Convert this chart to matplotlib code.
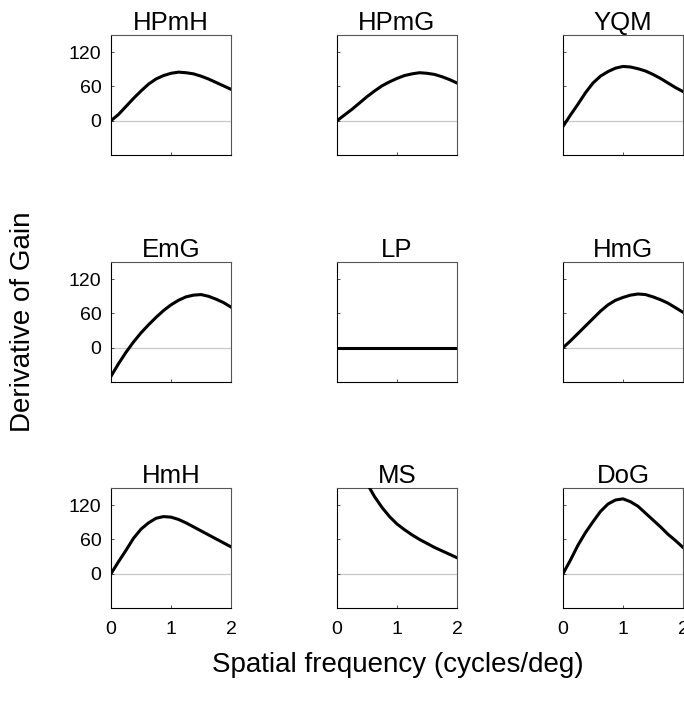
import matplotlib
matplotlib.use("Agg")
import matplotlib.pyplot as plt
import numpy as np

plt.rcParams['font.family'] = ['Liberation Sans', 'DejaVu Sans']

# spatial frequency samples (cycles/deg)
freq = [0, 0.125, 0.25, 0.375, 0.5, 0.625, 0.75, 0.875, 1.0, 1.125, 1.25,
        1.375, 1.5, 1.625, 1.75, 1.875, 2.0]

hpmh = [0, 11, 25, 39, 52, 64, 73, 79, 83, 85, 84, 82, 78, 73, 67, 61, 55]
hpmg = [0, 10, 20, 31, 42, 52, 61, 68, 74, 79, 82, 84, 83, 81, 77, 72, 66]
yqm = [-10, 10, 29, 49, 66, 78, 86, 92, 95, 94, 91, 87, 81, 74, 66, 58, 51]
emg = [-50, -28, -8, 10, 26, 40, 53, 65, 75, 83, 89, 92, 93, 90, 85, 79, 71]
lp = [0] * 17
hmg = [0, 12, 25, 38, 51, 64, 75, 83, 88, 92, 94, 93, 89, 84, 78, 70, 62]
hmh = [0, 21, 41, 62, 78, 89, 97, 100, 99, 95, 89, 82, 75, 68, 61, 54, 47]
ms = [360, 290, 230, 190, 158, 135, 116, 100, 87, 77, 68, 60, 53, 46, 40, 34, 28]
dog = [0, 24, 50, 72, 91, 109, 122, 129, 131, 126, 118, 106, 94, 82, 69, 58, 46]

titles = ["HPmH", "HPmG", "YQM", "EmG", "LP", "HmG", "HmH", "MS", "DoG"]
curves = [hpmh, hpmg, yqm, emg, lp, hmg, hmh, ms, dog]

fig = plt.figure(figsize=(6.84, 7.01), dpi=100)
W, H = 684.0, 701.0
lefts = [111, 337, 563]
tops = [35, 262, 488]
aw, ah = 120, 120

for i, (name, vals) in enumerate(zip(titles, curves)):
    r, c = divmod(i, 3)
    ax = fig.add_axes([lefts[c] / W, 1 - (tops[r] + ah) / H, aw / W, ah / H])
    ax.axhline(0, color="#c8c8c8", lw=0.9, zorder=1)
    ax.plot(freq, vals, color="black", lw=2.2, zorder=3,
            solid_joinstyle="round")
    ax.set_xlim(0, 2)
    ax.set_ylim(-60, 150)
    ax.set_xticks([0, 1, 2])
    ax.set_yticks([0, 60, 120])
    ax.tick_params(direction="in", length=2.5, width=0.6, labelsize=14,
                   color="#333333")
    ax.tick_params(axis="y", pad=7)
    ax.tick_params(axis="x", pad=9)
    if c != 0:
        ax.set_yticklabels([])
    if r != 2:
        ax.set_xticklabels([])
    for side in ["left", "bottom"]:
        ax.spines[side].set_color("black")
        ax.spines[side].set_linewidth(0.8)
    for side in ["top", "right"]:
        ax.spines[side].set_color("#555555")
        ax.spines[side].set_linewidth(0.8)
    ax.set_title(name, fontsize=18.5, pad=2.5)

fig.text(23 / W, 1 - 322 / H, "Derivative of Gain", rotation=90,
         fontsize=20, ha="center", va="center")
fig.text(398 / W, 1 - 665 / H, "Spatial frequency (cycles/deg)",
         fontsize=20, ha="center", va="center")

fig.savefig("out.png", dpi=100)
